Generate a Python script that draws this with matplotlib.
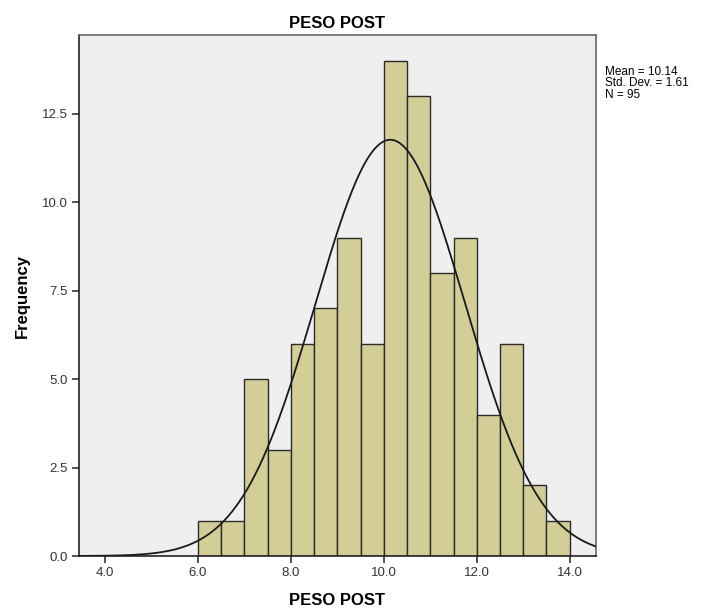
import numpy as np
import matplotlib.pyplot as plt

plt.rcParams['font.family'] = ['Liberation Sans', 'DejaVu Sans']

# histogram bins (width 0.5) and counts
bin_edges = [6.0, 6.5, 7.0, 7.5, 8.0, 8.5, 9.0, 9.5, 10.0, 10.5,
             11.0, 11.5, 12.0, 12.5, 13.0, 13.5, 14.0]
counts = [1, 1, 5, 3, 6, 7, 9, 6, 14, 13, 8, 9, 4, 6, 2, 1]
mean = 10.14
std = 1.61
n = 95
x_ticks = [4.0, 6.0, 8.0, 10.0, 12.0, 14.0]
y_ticks = [0.0, 2.5, 5.0, 7.5, 10.0, 12.5]

fig = plt.figure(figsize=(7.05, 6.16), dpi=100)
ax = fig.add_axes([0.112, 0.0974, 0.733, 0.8456])
ax.set_facecolor('#efefef')

edges = np.array(bin_edges)
widths = np.diff(edges)
ax.bar(edges[:-1], counts, width=widths, align='edge',
       color='#d3ce97', edgecolor='#2b2b2b', linewidth=1.0, zorder=2)

# fitted normal curve scaled to the histogram
xs = np.linspace(3.44, 14.56, 400)
pdf = np.exp(-0.5 * ((xs - mean) / std) ** 2) / (std * np.sqrt(2 * np.pi))
ax.plot(xs, n * widths[0] * pdf, color='#1a1a1a', linewidth=1.3, zorder=3)

ax.set_xlim(3.44, 14.56)
ax.set_ylim(0, 14.73)
ax.set_xticks(x_ticks)
ax.set_xticklabels([f'{t:.1f}' for t in x_ticks])
ax.set_yticks(y_ticks)
ax.set_yticklabels([f'{t:.1f}' for t in y_ticks])
ax.tick_params(direction='out', length=5, width=1.2, color='#333333',
               labelsize=9.5, labelcolor='#333333', pad=3)
for s in ax.spines.values():
    s.set_color('#666666')
    s.set_linewidth(1.2)
ax.spines['left'].set_color('#222222')
ax.spines['bottom'].set_color('#222222')

ax.set_title('PESO POST', fontsize=12, fontweight='bold', pad=5)
ax.set_xlabel('PESO POST', fontsize=12, fontweight='bold', labelpad=10)
ax.set_ylabel('Frequency', fontsize=12, fontweight='bold', labelpad=9)

fig.text(0.858, 0.893, f'Mean = {mean:.2f}\nStd. Dev. = {std:.2f}\nN = {n}',
         fontsize=8.5, va='top', ha='left', linespacing=0.95)

fig.savefig('out.png', dpi=100)
